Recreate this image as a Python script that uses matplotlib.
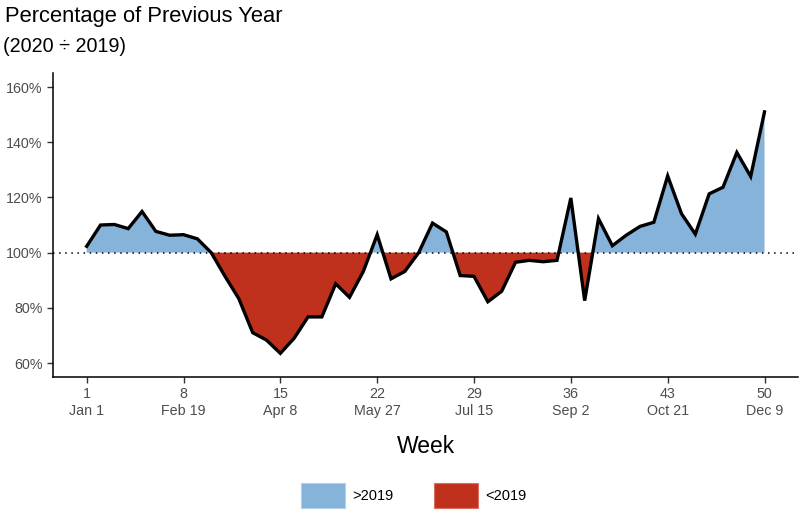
import numpy as np
import matplotlib.pyplot as plt
from matplotlib.patches import Patch
from matplotlib.ticker import PercentFormatter

plt.rcParams['font.family'] = ['Liberation Sans', 'DejaVu Sans']

# weekly ratio 2020 / 2019, in percent
weeks = np.arange(1, 51)
pct_of_prev = [
    102.3, 110.0, 110.2, 108.7, 114.9, 107.7, 106.3, 106.5, 105.0, 100.0,
    91.4, 83.3, 71.0, 68.3, 63.5, 69.0, 76.7, 76.7, 88.7, 83.8,
    93.2, 106.5, 90.5, 93.2, 100.0, 110.7, 107.5, 91.7, 91.4, 82.2,
    86.0, 96.5, 97.2, 96.7, 97.2, 119.8, 82.6, 112.3, 102.5, 106.3,
    109.5, 111.0, 127.8, 114.1, 106.7, 121.3, 123.7, 136.3, 127.6, 151.0,
]
tick_weeks = [1, 8, 15, 22, 29, 36, 43, 50]
tick_dates = ['Jan 1', 'Feb 19', 'Apr 8', 'May 27', 'Jul 15', 'Sep 2', 'Oct 21', 'Dec 9']
legend_labels = ['>2019', '<2019']

BLUE = '#86B3D9'
RED = '#BF311D'
GREY = '#4D4D4D'

y = np.array(pct_of_prev)

fig = plt.figure(figsize=(8, 5.27), dpi=100)
ax = fig.add_axes([0.066, 0.285, 0.932, 0.576])

ax.fill_between(weeks, y, 100, where=y >= 100, interpolate=True,
                color=BLUE, linewidth=0)
ax.fill_between(weeks, y, 100, where=y <= 100, interpolate=True,
                color=RED, linewidth=0)
ax.axhline(100, color='black', linestyle=(0, (1, 3)), linewidth=1.1)
ax.plot(weeks, y, color='black', linewidth=2.4, solid_joinstyle='miter')

ax.set_xlim(1 - 0.05 * 49, 50 + 0.05 * 49)
ax.set_ylim(55, 165)
ax.set_yticks([60, 80, 100, 120, 140, 160])
ax.yaxis.set_major_formatter(PercentFormatter(decimals=0))
ax.set_xticks(tick_weeks)
ax.set_xticklabels([f'{w}\n{d}' for w, d in zip(tick_weeks, tick_dates)],
                   linespacing=1.25)

for s in ['top', 'right']:
    ax.spines[s].set_visible(False)
for s in ['left', 'bottom']:
    ax.spines[s].set_linewidth(1.1)
ax.tick_params(axis='both', colors='#333333', labelcolor=GREY,
               labelsize=10.3, length=4, width=1)

ax.set_xlabel('Week', fontsize=16.5, labelpad=12)

fig.text(0.006, 0.988, 'Percentage of Previous Year', fontsize=15.8,
         ha='left', va='top')
fig.text(0.004, 0.93, '(2020 \u00f7 2019)', fontsize=14.2, ha='left', va='top')

handles = [Patch(facecolor=BLUE, edgecolor='#B5D0E8', linewidth=0.8),
           Patch(facecolor=RED, edgecolor='#D9705F', linewidth=0.8)]
fig.legend(handles, legend_labels, loc='center', bbox_to_anchor=(0.517, 0.06),
           ncol=2, frameon=False, fontsize=10.5, handlelength=3.0,
           handleheight=2.3, handletextpad=0.5, columnspacing=2.8)

fig.savefig('out.png', dpi=100)
